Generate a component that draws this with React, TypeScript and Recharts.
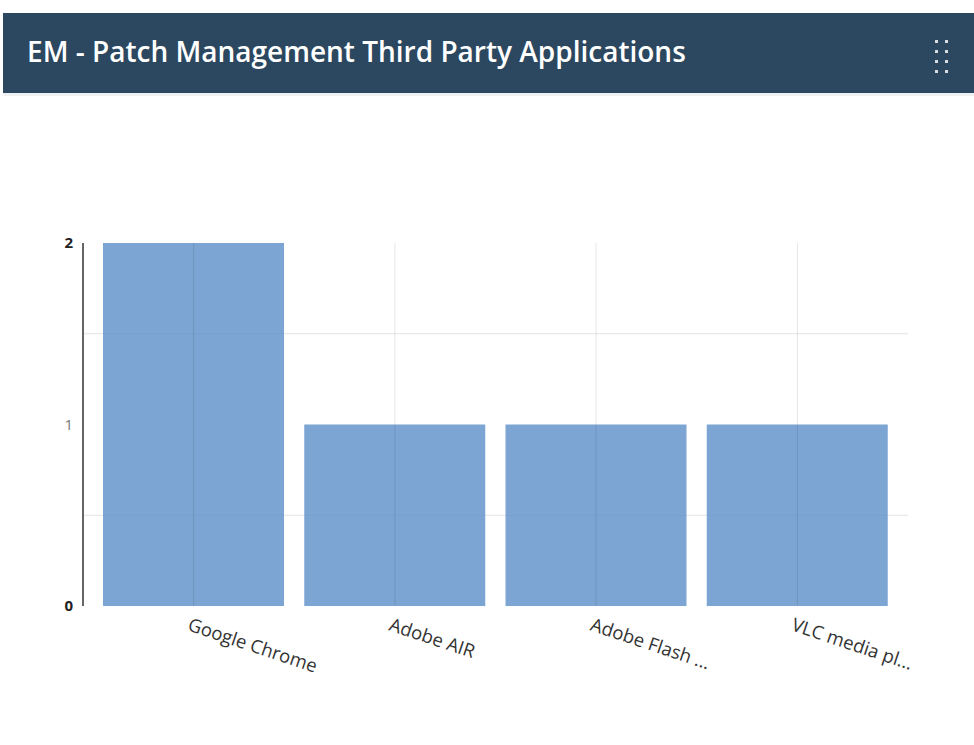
import React from "react";
import { BarChart, Bar, XAxis, YAxis, CartesianGrid, ReferenceLine } from "recharts";

const categories = ["Google Chrome", "Adobe AIR", "Adobe Flash ...", "VLC media pl..."];
const counts = [2, 1, 1, 1];
const yTicks = [0, 1, 2];
const gridValues = [0.5, 1.5];
const title = "EM - Patch Management Third Party Applications";

const data = categories.map((name, i) => ({ name, value: counts[i] }));

const XTick = (props: any) => {
  const { x, y, payload } = props;
  return (
    <g transform={`translate(${x - 7},${y + 16}) rotate(18.5)`}>
      <text x={0} y={0} textAnchor="start" fill="#333" fontSize={18.5} fontFamily="'Open Sans', sans-serif">
        {payload.value}
      </text>
    </g>
  );
};

const YTick = (props: any) => {
  const { x, y, payload } = props;
  const bold = payload.value === 0 || payload.value === 2;
  return (
    <text
      x={x - 2}
      y={y + 5}
      textAnchor="end"
      fill={bold ? "#222" : "#777"}
      fontWeight={bold ? 700 : 400}
      fontSize={15}
      fontFamily="'Open Sans', sans-serif"
    >
      {payload.value}
    </text>
  );
};

export default function App() {
  const dots = [];
  for (let r = 0; r < 4; r++) {
    for (let c = 0; c < 2; c++) {
      dots.push(
        <div
          key={`${r}-${c}`}
          style={{
            position: "absolute",
            left: 935 + c * 10,
            top: 40 + r * 10,
            width: 3,
            height: 3,
            background: "#d8dde2",
          }}
        />
      );
    }
  }
  return (
    <div style={{ position: "absolute", left: 0, top: 0, width: 974, height: 745, background: "#fff", overflow: "hidden" }}>
      <div style={{ position: "absolute", left: 0, top: 0 }}>
        <BarChart
          width={974}
          height={745}
          data={data}
          margin={{ top: 243, right: 66, bottom: 59, left: 0 }}
          barCategoryGap={10}
        >
          <CartesianGrid stroke="#e3e3e3" vertical={false} horizontalValues={gridValues} />
          <XAxis
            dataKey="name"
            axisLine={false}
            tickLine={false}
            padding={{ left: 10, right: 10 }}
            height={80}
            interval={0}
            tick={<XTick />}
          />
          <YAxis
            domain={[0, 2]}
            ticks={yTicks}
            width={83}
            axisLine={{ stroke: "#666", strokeWidth: 2 }}
            tickLine={false}
            tick={<YTick />}
          />
          <Bar dataKey="value" fill="#5b8ec8" fillOpacity={0.8} isAnimationActive={false} />
          {categories.map((c) => (
            <ReferenceLine key={c} x={c} stroke="#000" strokeOpacity={0.1} strokeWidth={1} />
          ))}
        </BarChart>
      </div>
      <div
        style={{
          position: "absolute",
          left: 3,
          top: 13,
          width: 971,
          height: 80,
          background: "#2b4860",
        }}
      />
      <div style={{ position: "absolute", left: 3, top: 93, width: 971, height: 3, background: "#eef0f2" }} />
      <div
        style={{
          position: "absolute",
          left: 27,
          top: 32,
          color: "#ffffff",
          fontFamily: "'Open Sans', sans-serif",
          fontWeight: 600,
          fontSize: 28,
          lineHeight: "38px",
          whiteSpace: "nowrap",
        }}
      >
        {title}
      </div>
      {dots}
    </div>
  );
}
